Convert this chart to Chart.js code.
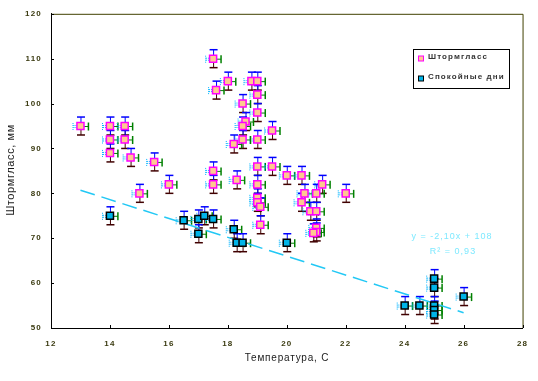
<!DOCTYPE html>
<html><head><meta charset="utf-8">
<script src="https://cdn.jsdelivr.net/npm/chart.js@4/dist/chart.umd.min.js"></script>
<style>html,body{margin:0;padding:0;background:#fff}canvas{display:block}</style>
</head><body>
<canvas id="c" width="538" height="381"></canvas>
<script>
// Series: Штормгласс (temperature, value)
const stormX = [13,14,14.5,14,14.5,14,14.7,15.5,16,15,17.5,18,17.6,18.8,19,19,18.5,19,18.6,18.5,19.5,19,18.5,18.2,17.5,17.5,18.3,19,19.5,20,19,19,19,19.1,19.1,20.5,21.2,20.6,21,22,20.5,20.8,21,21,21,20.9];
const stormY = [95,95,95,92,92,89,88,87,82,80,110,105,103,105,105,102,100,98,96,95,94,92,92,91,85,82,83,86,86,84,82,79,78,77,73,84,82,80,80,80,78,76,76,72.3,71.4,71.2];
// Series: Спокойные дни
const calmX = [14,16.5,17,17.2,17.5,17,18.2,18.3,18.5,20,25,25,24,24.5,25,25,25,26];
const calmY = [75,74,74.3,75,74.3,71,72,69,69,69,61,59,55,55,55,54,53,57];
// Trend line end points
const trendX = [13,26];
const trendY = [80.7,53.4];
const xTicks = [12,14,16,18,20,22,24,26,28];
const yTicks = [50,60,70,80,90,100,110,120];
const seriesNames = ['Штормгласс','Спокойные дни'];
const eqText = ['y = -2,10x + 108','R² = 0,93'];
const xTitle = 'Температура, С';
const yTitle = 'Штормгласс, мм';
const errY = 2, errX = 0.27;

const pts = (xs, ys) => xs.map((x,i)=>({x, y: ys[i]}));

const spacing = {
  id:'spacing',
  beforeDraw(chart){ chart.ctx.letterSpacing = '1.2px'; },
  beforeDatasetsDraw(chart){ chart.ctx.letterSpacing = '0px'; }
};

const errorBars = {
  id:'errorBars',
  beforeDatasetsDraw(chart){
    const ctx = chart.ctx, xs = chart.scales.x, ys = chart.scales.y;
    chart.data.datasets.forEach((ds, di) => {
      if (ds.type === 'line') return;
      ds.data.forEach(p => {
        const px = xs.getPixelForValue(p.x), py = ys.getPixelForValue(p.y);
        const up = ys.getPixelForValue(p.y + errY), dn = ys.getPixelForValue(p.y - errY);
        const rt = xs.getPixelForValue(p.x + errX), lf = xs.getPixelForValue(p.x - errX);
        ctx.save();
        ctx.lineWidth = 1;
        ctx.strokeStyle = '#0000ff';
        ctx.beginPath(); ctx.moveTo(px+0.5, py); ctx.lineTo(px+0.5, up); ctx.stroke();
        ctx.lineWidth = 1.5;
        ctx.beginPath(); ctx.moveTo(px-3.5, up); ctx.lineTo(px+4.5, up); ctx.stroke();
        ctx.lineWidth = 1;
        ctx.strokeStyle = '#400000';
        ctx.beginPath(); ctx.moveTo(px+0.5, py); ctx.lineTo(px+0.5, dn); ctx.stroke();
        ctx.lineWidth = 1.5;
        ctx.beginPath(); ctx.moveTo(px-3.5, dn); ctx.lineTo(px+4.5, dn); ctx.stroke();
        ctx.lineWidth = 1;
        ctx.strokeStyle = '#008000';
        ctx.beginPath(); ctx.moveTo(px, py+0.5); ctx.lineTo(rt, py+0.5); ctx.stroke();
        ctx.lineWidth = 1.5;
        ctx.beginPath(); ctx.moveTo(rt, py-3.5); ctx.lineTo(rt, py+4.5); ctx.stroke();
        ctx.lineWidth = 1;
        ctx.strokeStyle = '#00b4ff';
        ctx.setLineDash([1,1]);
        ctx.beginPath(); ctx.moveTo(px, py-0.5); ctx.lineTo(lf, py-0.5); ctx.stroke();
        ctx.beginPath(); ctx.moveTo(px, py+1.5); ctx.lineTo(lf, py+1.5); ctx.stroke();
        ctx.beginPath(); ctx.moveTo(lf+0.5, py-3); ctx.lineTo(lf+0.5, py+4); ctx.stroke();
        ctx.restore();
      });
    });
  }
};

const decor = {
  id:'decor',
  afterDraw(chart){
    const ctx = chart.ctx, a = chart.chartArea, xs = chart.scales.x, ys = chart.scales.y;
    ctx.save();
    ctx.letterSpacing = '0px';
    ctx.strokeStyle = '#404000'; ctx.lineWidth = 1;
    ctx.beginPath(); ctx.moveTo(a.left, a.top+0.5); ctx.lineTo(a.right+0.5, a.top+0.5); ctx.lineTo(a.right+0.5, a.bottom); ctx.stroke();
    ctx.strokeStyle = '#000';
    xTicks.forEach(v => { const x = Math.round(xs.getPixelForValue(v))+0.5; ctx.beginPath(); ctx.moveTo(x, a.bottom); ctx.lineTo(x, a.bottom-3); ctx.stroke(); });
    yTicks.forEach(v => { const y = Math.round(ys.getPixelForValue(v))+0.5; ctx.beginPath(); ctx.moveTo(a.left, y); ctx.lineTo(a.left+3, y); ctx.stroke(); });
    ctx.fillStyle = '#1a1a1a';
    ctx.font = '10px "Liberation Sans", Arial, sans-serif';
    ctx.letterSpacing = '0.8px';
    ctx.textAlign = 'center'; ctx.textBaseline = 'middle';
    ctx.fillText(xTitle, 287, 358);
    ctx.save(); ctx.translate(11, 170); ctx.rotate(-Math.PI/2);
    ctx.font = '11px "Liberation Sans", Arial, sans-serif';
    ctx.letterSpacing = '0.6px';
    ctx.fillText(yTitle, 0, 0); ctx.restore();
    ctx.fillStyle = '#7fe9ff';
    ctx.font = '9px "Liberation Sans", Arial, sans-serif';
    ctx.letterSpacing = '1px';
    ctx.fillText(eqText[0], 452, 237);
    ctx.fillText(eqText[1], 453, 252);
    ctx.letterSpacing = '0px';
    ctx.fillStyle = '#fff'; ctx.strokeStyle = '#000'; ctx.lineWidth = 1;
    ctx.fillRect(413, 49, 96, 39);
    ctx.strokeRect(413.5, 49.5, 96, 39);
    const items = [['#ffc890','#ff00ff', 58.5],['#00b4e8','#000', 78.5]];
    items.forEach((it, i) => {
      ctx.fillStyle = it[0]; ctx.strokeStyle = it[1]; ctx.lineWidth = 1;
      ctx.fillRect(418.5, it[2]-2.5, 5, 5);
      ctx.strokeRect(418.5, it[2]-2.5, 5, 5);
      ctx.fillStyle = '#333';
      ctx.font = 'bold 8px "Liberation Sans", Arial, sans-serif';
      ctx.letterSpacing = '1.1px';
      ctx.textAlign = 'left';
      ctx.fillText(seriesNames[i], 428, it[2]-1.5);
    });
    ctx.restore();
  }
};

new Chart(document.getElementById('c'), {
  type:'scatter',
  data:{ datasets:[
    { type:'line', label:'trend', data: pts(trendX, trendY), borderColor:'#22c8f5', borderWidth:1.5, borderDash:[15,7], pointRadius:0, fill:false, order:3 },
    { label: seriesNames[0], data: pts(stormX, stormY), pointStyle:'rect', pointRadius:5, backgroundColor:'#ffc890', borderColor:'#ff00ff', borderWidth:1.5, order:1 },
    { label: seriesNames[1], data: pts(calmX, calmY), pointStyle:'rect', pointRadius:5, backgroundColor:'#00b4e8', borderColor:'#000', borderWidth:1.5, order:2 }
  ]},
  options:{
    responsive:false, animation:false, devicePixelRatio:1,
    layout:{ padding:{ top:12, right:11, left:0, bottom:0 } },
    plugins:{ legend:{display:false}, tooltip:{enabled:false} },
    scales:{
      x:{ type:'linear', min:12, max:28, afterFit:s=>{s.height=53;},
          afterBuildTicks:s=>{ s.ticks = xTicks.map(v=>({value:v})); },
          grid:{ display:false, drawTicks:false }, border:{ display:true, color:'#000', width:1 },
          ticks:{ padding:11, color:'#3a3a10', font:{ family:'"Liberation Sans", Arial', size:8, weight:'bold' }, maxRotation:0 } },
      y:{ type:'linear', min:50, max:120, afterFit:s=>{s.width=51;},
          afterBuildTicks:s=>{ s.ticks = yTicks.map(v=>({value:v})); },
          grid:{ display:false, drawTicks:false }, border:{ display:true, color:'#000', width:1 },
          ticks:{ padding:9, color:'#3a3a10', font:{ family:'"Liberation Sans", Arial', size:8, weight:'bold' } } }
    }
  },
  plugins:[spacing, errorBars, decor]
});
</script>
</body></html>
